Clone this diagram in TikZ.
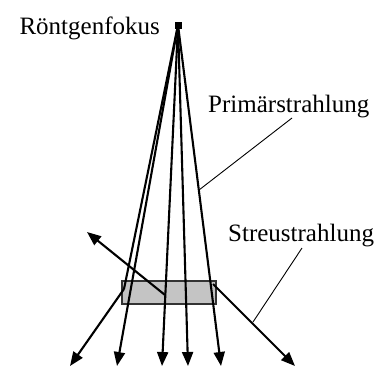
\documentclass[tikz,border=0pt]{standalone}
\usepackage{fontspec}
\setmainfont{Liberation Serif}
\usetikzlibrary{arrows.meta}
\begin{document}
\begin{tikzpicture}[x=1pt,y=-1pt,
  ray/.style={line width=2.1pt,-{Triangle[length=14pt,width=11pt]}},
  rayplain/.style={line width=2.1pt},
  leader/.style={line width=0.9pt},
  lbl/.style={font=\fontsize{25}{30}\selectfont,inner sep=0pt}]
\useasboundingbox (0,0) rectangle (379,367);
% box
\node[draw=black!80,line width=1.8pt,fill=black!23,minimum width=94pt,minimum height=23pt,inner sep=0pt,anchor=north west] (B) at (121,280) {};
% focus
\node[fill=black,minimum size=7pt,inner sep=0pt] (F) at (178,25) {};
% end points
\coordinate (E1) at (70,366);
\coordinate (K1) at (124,289);
\coordinate (E2) at (117,366);
\coordinate (E3) at (162,366);
\coordinate (E4) at (188,366);
\coordinate (E5) at (221,366);
\coordinate (S1a) at (165,295);
\coordinate (S1b) at (87,232);
\coordinate (S2a) at (213,284);
\coordinate (S2b) at (295,366);
% rays
\draw[rayplain] (F.center) -- (K1);
\draw[ray] (K1) -- (E1);
\draw[ray] (F.center) -- (E2);
\draw[ray] (F.center) -- (E3);
\draw[ray] (F.center) -- (E4);
\draw[ray] (F.center) -- (E5);
\draw[ray] (S1a) -- (S1b);
\draw[ray] (S2a) -- (S2b);
% labels
\node[lbl,anchor=base east] (LR) at (160,34) {Röntgenfokus};
\node[lbl,anchor=base west] (LP) at (208,112) {Primärstrahlung};
\node[lbl,anchor=base west] (LS) at (228,241) {Streustrahlung};
% leaders
\coordinate (P1) at (292,118);
\coordinate (P2) at (199,190);
\coordinate (Q1) at (302,248);
\coordinate (Q2) at (253,322);
\draw[leader] (P1) -- (P2);
\draw[leader] (Q1) -- (Q2);
\end{tikzpicture}
\end{document}
